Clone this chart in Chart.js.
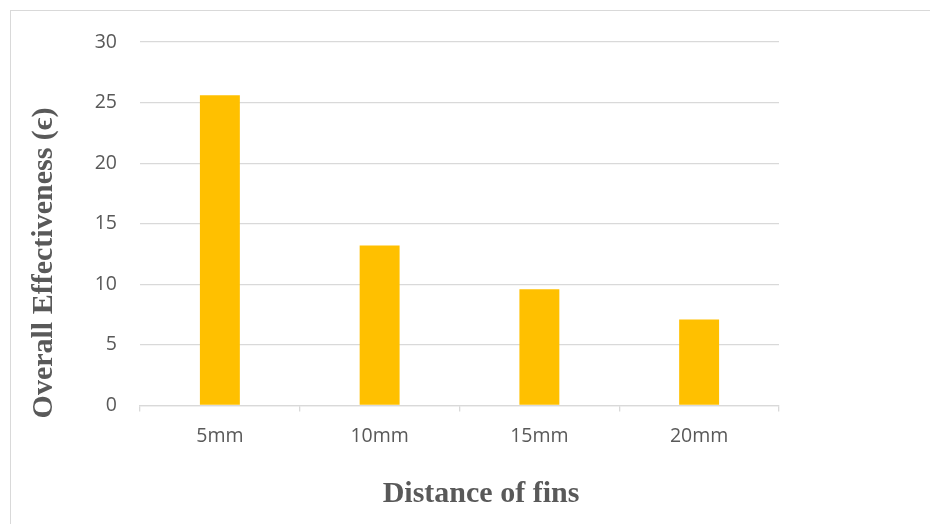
<!DOCTYPE html>
<html>
<head>
<meta charset="utf-8">
<script src="https://cdn.jsdelivr.net/npm/chart.js@4"></script>
<style>
  html, body { margin: 0; padding: 0; background: #fff; overflow: hidden; }
  #wrap { position: relative; width: 930px; height: 524px; }
  #frame { position: absolute; left: 10px; top: 10px; width: 940px; height: 540px;
           border: 1px solid #d9d9d9; box-sizing: border-box; pointer-events: none; }
  canvas { position: absolute; left: 0; top: 0; }
</style>
</head>
<body>
<div id="wrap">
  <div id="frame"></div>
  <canvas id="chart" width="930" height="524"></canvas>
</div>
<script>
// Fin spacing categories and measured overall effectiveness
const categories = ['5mm', '10mm', '15mm', '20mm'];
const effectiveness = [25.6, 13.2, 9.6, 7.1];
const yTicks = [0, 5, 10, 15, 20, 25, 30];

const xTitle = 'Distance of fins';
const yTitle = 'Overall Effectiveness (\u03F5)';

const textGrey = '#595959';
const gridGrey = '#d9d9d9';

// Axis titles drawn at fixed offsets from the plot area
const axisTitles = {
  id: 'axisTitles',
  afterDraw(chart) {
    const ctx = chart.ctx;
    const area = chart.chartArea;
    ctx.save();
    ctx.fillStyle = textGrey;
    ctx.font = 'bold 30px "Liberation Serif", "Times New Roman", serif';
    ctx.textAlign = 'center';
    ctx.textBaseline = 'alphabetic';
    ctx.fillText(xTitle, area.left + 341, 502);
    ctx.translate(52, area.top + 221);
    ctx.rotate(-Math.PI / 2);
    ctx.fillText(yTitle, 0, 0);
    ctx.restore();
  }
};

new Chart(document.getElementById('chart'), {
  type: 'bar',
  data: {
    labels: categories,
    datasets: [{
      data: effectiveness,
      backgroundColor: '#FFC000',
      borderWidth: 0,
      barPercentage: 0.25,
      categoryPercentage: 1.0
    }]
  },
  options: {
    responsive: false,
    animation: false,
    devicePixelRatio: 1,
    layout: { padding: { top: 42, right: 151, bottom: 0, left: 0 } },
    plugins: { legend: { display: false }, tooltip: { enabled: false } },
    scales: {
      x: {
        offset: true,
        grid: { drawOnChartArea: false, drawTicks: true, tickLength: 6, color: gridGrey, lineWidth: 1.3, offset: true },
        border: { display: true, color: gridGrey, width: 1.3 },
        ticks: { color: textGrey, font: { family: '"Open Sans", sans-serif', size: 19.5 }, padding: 13 },
        afterFit(scale) { scale.height = 118.5; }
      },
      y: {
        min: 0,
        max: 30,
        afterBuildTicks(scale) { scale.ticks = yTicks.map(v => ({ value: v })); },
        grid: { color: gridGrey, lineWidth: 1.3, drawTicks: false },
        border: { display: false },
        ticks: { color: textGrey, font: { family: '"Open Sans", sans-serif', size: 19.5 }, padding: 23 },
        afterFit(scale) { scale.width = 140; }
      }
    }
  },
  plugins: [axisTitles]
});
</script>
</body>
</html>
